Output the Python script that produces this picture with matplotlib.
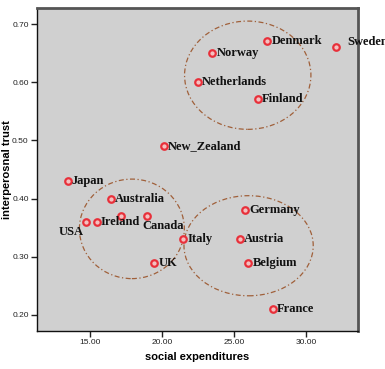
import matplotlib
matplotlib.use("Agg")
import matplotlib.pyplot as plt
from matplotlib.patches import Ellipse

# -------- data --------
countries = ["Japan", "Australia", "Ireland", "USA", "", "Canada", "Italy", "UK",
             "Germany", "Austria", "Belgium", "France", "New_Zealand",
             "Netherlands", "Norway", "Denmark", "Finland", "Sweden"]
social_exp = [13.43, 16.44, 15.44, 14.72, 17.13, 18.94, 21.45, 19.43,
              25.78, 25.39, 25.99, 27.68, 20.13,
              22.47, 23.49, 27.30, 26.67, 32.10]
trust = [0.430, 0.400, 0.360, 0.360, 0.370, 0.370, 0.330, 0.290,
         0.380, 0.330, 0.290, 0.210, 0.491,
         0.601, 0.651, 0.670, 0.571, 0.660]

# label offsets in points (dx, dy)
offsets = {"USA": (-20, -7), "Canada": (-3, -7), "Sweden": (8, 4)}

# cluster ellipses: center x, center y, width, height
clusters = [(25.95, 0.612, 8.79, 0.186),
            (17.89, 0.348, 7.30, 0.171),
            (26.01, 0.319, 8.99, 0.172)]

plt.rcParams["font.family"] = ["Liberation Sans", "DejaVu Sans"]

fig = plt.figure(figsize=(3.85, 3.69), dpi=100)
ax = fig.add_axes([37 / 385, 1 - 331 / 369, (358 - 37) / 385, (331 - 8) / 369])
ax.set_facecolor("#d0d0d0")

ax.scatter(social_exp, trust, s=22, facecolor="#f4c0c0", edgecolor="#e8303a",
           linewidth=1.6, zorder=3)

for name, x, y in zip(countries, social_exp, trust):
    if not name:
        continue
    dx, dy = offsets.get(name, (3, 0))
    ax.annotate(name, (x, y), xytext=(dx, dy), textcoords="offset points",
                ha="left", va="center", fontsize=9, fontweight="bold",
                family="Liberation Serif", color="#111111",
                annotation_clip=False, zorder=4)

for cx, cy, w, h in clusters:
    ax.add_patch(Ellipse((cx, cy), w, h, fill=False, edgecolor="#a0603a",
                         linestyle=(0, (4, 2, 1, 2)), linewidth=0.9, zorder=2))

ax.set_xlim(11.29, 33.62)
ax.set_ylim(0.1725, 0.7275)
ax.set_xticks([15, 20, 25, 30])
ax.set_yticks([0.2, 0.3, 0.4, 0.5, 0.6, 0.7])
ax.set_xticklabels(["15.00", "20.00", "25.00", "30.00"])
ax.set_yticklabels(["0.20", "0.30", "0.40", "0.50", "0.60", "0.70"])
ax.tick_params(direction="out", length=4, width=1, labelsize=6, pad=2,
               colors="#222222")

for side in ["top", "right"]:
    ax.spines[side].set_color("#555555")
    ax.spines[side].set_linewidth(2)
for side in ["left", "bottom"]:
    ax.spines[side].set_color("#111111")
    ax.spines[side].set_linewidth(1)

ax.set_xlabel("social expenditures", fontsize=8, fontweight="bold")
ax.set_ylabel("interperosnal trust", fontsize=8, fontweight="bold")
ax.xaxis.set_label_coords(0.5, -(357 - 331) / 323, transform=ax.transAxes)
ax.yaxis.set_label_coords(-(37 - 7) / 321, 0.5, transform=ax.transAxes)
ax.xaxis.label.set_va("center")
ax.yaxis.label.set_va("center")

fig.savefig("out.png", dpi=100)
